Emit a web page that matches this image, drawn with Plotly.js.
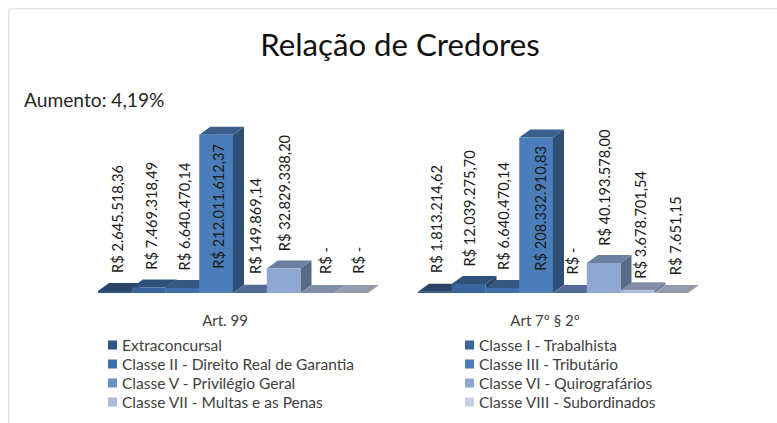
<!DOCTYPE html>
<html><head><meta charset="utf-8">
<script src="https://cdn.plot.ly/plotly-3.0.1.min.js"></script>
<style>html,body{margin:0;padding:0;background:#fff}#c{width:777px;height:423px}</style></head>
<body><div id="c"></div>
<script>
var categories = ['Art. 99', 'Art 7º § 2º'];
var seriesNames = ['Extraconcursal','Classe I - Trabalhista','Classe II - Direito Real de Garantia','Classe III - Tributário','Classe V - Privilégio Geral','Classe VI - Quirografários','Classe VII - Multas e as Penas','Classe VIII - Subordinados'];
var art99 = [2645518.36, 7469318.49, 6640470.14, 212011612.37, 149869.14, 32829338.20, 0, 0];
var art7 = [1813214.62, 12039275.70, 6640470.14, 208332910.83, 0, 40193578.00, 3678701.54, 7651.15];
var labels99 = ['R$ 2.645.518,36','R$ 7.469.318,49','R$ 6.640.470,14','R$ 212.011.612,37','R$ 149.869,14','R$ 32.829.338,20','R$ -','R$ -'];
var labels7 = ['R$ 1.813.214,62','R$ 12.039.275,70','R$ 6.640.470,14','R$ 208.332.910,83','R$ -','R$ 40.193.578,00','R$ 3.678.701,54','R$ 7.651,15'];
var frontColors = ['#2f5585','#38659c','#3f70ab','#4a7dba','#6b90c6','#8fa8d2','#abbcdc','#c6d0e5'];
var topColors = ['#2a4468','#2f5079','#34587f','#3b5f8c','#506c96','#6c7fa0','#808ea8','#949caa'];
var sideColors = ['#243b5a','#284566','#2b4a6c','#304f76','#43597a','#5a6a85','#6c7890','#7d8595'];
var labelX99 = [2,2,2,2,5,1,8,7];
var labelLift99 = [18,21,21,22,17,40,17,17];
var labelX7 = [1,1,0.5,4,3,0,3,4.5];
var labelLift7 = [18,24.6,21,20,17,45.4,12.7,16];
var legendPos = [[82,345],[439,345],[82,364],[439,364],[82,383],[439,383],[82,402],[439,402]];

var W=777,H=423,ML=73,MR=64,MT=114,PH=178.7,PW=640;
var yMax=240e6, barW=33.75/320, dx=11/320, dy=8*yMax/PH;
var traces=[], ann=[], layoutLegends={};
function barLeft(g,i){return g-4*barW+i*barW;}
// depth faces, painted left to right, underneath the bar fronts
[art99,art7].forEach(function(vals,g){
  vals.forEach(function(v,i){
    var l=barLeft(g,i), r=l+barW;
    function face(xs,ys,c){traces.push({type:'scatter',mode:'lines',x:xs,y:ys,fill:'toself',fillcolor:c,line:{width:0},hoverinfo:'skip',showlegend:false,xaxis:'x',yaxis:'y'});}
    face([r,r+dx,r+dx,r,r],[0,dy,v+dy,v,0],sideColors[i]);
    face([l,r,r+dx,l+dx,l],[v,v,v+dy,v+dy,v],topColors[i]);
  });
});
seriesNames.forEach(function(n,i){
  var key = i===0?'legend':'legend'+(i+1);
  traces.push({type:'bar',name:n,x:[0,1],y:[art99[i],art7[i]],marker:{color:frontColors[i],line:{width:0}},xaxis:'x',yaxis:'y2',legend:key,hoverinfo:'name+y'});
  layoutLegends[key]={x:(legendPos[i][0]-ML)/PW,y:1-(legendPos[i][1]-MT)/PH,xanchor:'left',yanchor:'middle',bgcolor:'rgba(0,0,0,0)',font:{family:'Lato',size:15.5,color:'#404040'}};
});
function addLabels(txt,g,xs,lifts){
  txt.forEach(function(t,i){
    ann.push({xref:'x',yref:'y',x:barLeft(g,i)+barW/2,y:0,xshift:xs[i],yshift:lifts[i],text:t,textangle:-90,showarrow:false,xanchor:'center',yanchor:'bottom',font:{family:'Lato',size:14.6,color:'#1a1a1a'}});
  });
}
addLabels(labels99,0,labelX99,labelLift99);
addLabels(labels7,1,labelX7,labelLift7);
ann.push({xref:'paper',yref:'paper',x:(25-ML)/PW,y:1-(100-MT)/PH,xanchor:'left',yanchor:'middle',text:'Aumento: 4,19%',showarrow:false,xshift:-3,font:{family:'Lato',size:19.2,color:'#262626'}});
var layout=Object.assign({
  width:W,height:H,autosize:false,showlegend:true,barmode:'group',bargap:0.156,bargroupgap:0,
  margin:{l:ML,r:MR,t:MT,b:H-MT-PH,pad:0,autoexpand:false},paper_bgcolor:'#fff',plot_bgcolor:'rgba(0,0,0,0)',
  title:{text:'Relação de Credores',x:400/W,xanchor:'center',y:1-45/H,yanchor:'middle',font:{family:'Lato',size:31.2,color:'#111'}},
  xaxis:{type:'linear',range:[-0.5,1.5],tickmode:'array',tickvals:[-0.025,0.975],ticktext:categories,showgrid:false,zeroline:false,showline:false,ticks:'outside',ticklen:14,tickcolor:'rgba(0,0,0,0)',tickfont:{family:'Lato',size:15,color:'#404040'},fixedrange:true},
  yaxis:{range:[0,yMax],visible:false,fixedrange:true},
  yaxis2:{range:[0,yMax],visible:false,overlaying:'y',fixedrange:true},
  annotations:ann,
  shapes:[{type:'line',xref:'paper',yref:'paper',x0:(8.7-ML)/PW,x1:(8.7-ML)/PW,y0:1-(9-MT)/PH,y1:1-(423-MT)/PH,line:{color:'#e4e4e4',width:1.6}},
          {type:'line',xref:'paper',yref:'paper',x0:(8.7-ML)/PW,x1:(777-ML)/PW,y0:1-(9-MT)/PH,y1:1-(9-MT)/PH,line:{color:'#e8e8e8',width:1.6}}]
},layoutLegends);
Plotly.newPlot('c',traces,layout,{displayModeBar:false,staticPlot:true}).then(function(gd){
  // the reference's legend keys are smaller and sit next to their text
  gd.querySelectorAll('.legendsymbols').forEach(function(s){
    s.setAttribute('transform','translate(30.5,0) scale(0.75) translate(-20,0)');
  });
});
</script></body></html>
